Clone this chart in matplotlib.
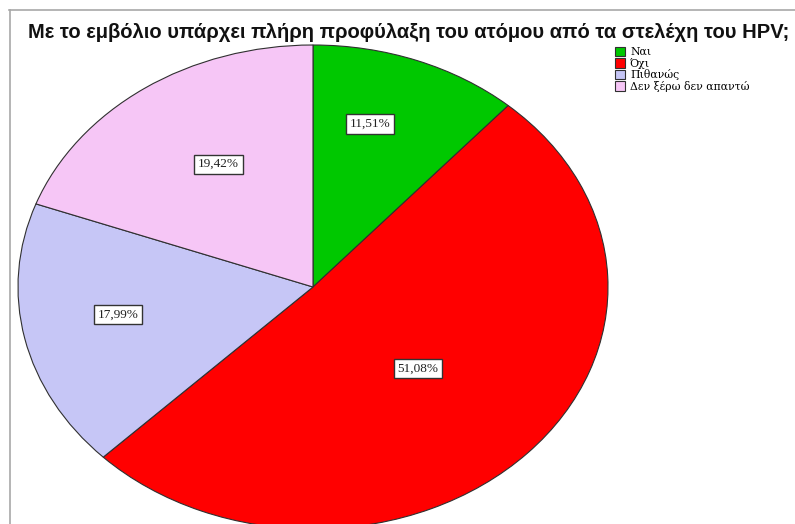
import matplotlib
matplotlib.use("Agg")
import matplotlib.pyplot as plt
from matplotlib.lines import Line2D
import numpy as np

# Survey answers and their shares (%)
categories = ["Ναι", "Όχι", "Πιθανώς", "Δεν ξέρω δεν απαντώ"]
shares = [11.51, 51.08, 17.99, 19.42]
pct_labels = ["11,51%", "51,08%", "17,99%", "19,42%"]
title = "Με το εμβόλιο υπάρχει πλήρη προφύλαξη του ατόμου από τα στελέχη του HPV;"

colors = ["#00c800", "#ff0000", "#c6c6f6", "#f6c6f6"]
label_dist = [0.70, 0.49, 0.67, 0.60]
label_shift = [4.7, 0.0, -2.6, -2.7]  # degrees, counter-clockwise positive

W, H = 795, 524
fig = plt.figure(figsize=(W / 100, H / 100), dpi=100)
fig.patch.set_facecolor("white")

# frame lines along the top and left edges
fig.add_artist(Line2D([9 / W, 1.0], [1 - 10 / H, 1 - 10 / H], transform=fig.transFigure,
                      color="#a8a8a8", lw=1.2))
fig.add_artist(Line2D([10 / W, 10 / W], [0.0, 1 - 10 / H], transform=fig.transFigure,
                      color="#a8a8a8", lw=1.2))

fig.text(28 / W, 1 - 33 / H, title, fontsize=14.5, fontweight="bold",
         family="Liberation Sans", ha="left", va="center", color="#111111")

left, right, top, bottom = 18, 608, 45, 529
ax = fig.add_axes([left / W, (H - bottom) / H, (right - left) / W, (bottom - top) / H])
wedges, _ = ax.pie(shares, colors=colors, startangle=90, counterclock=False,
                   wedgeprops=dict(edgecolor="#303030", linewidth=0.8))
ax.set_xlim(-1, 1)
ax.set_ylim(-1, 1)
ax.set_aspect("auto")
ax.axis("off")

# percentage labels in boxes, placed along each wedge's middle direction
for w, lab, d, s in zip(wedges, pct_labels, label_dist, label_shift):
    mid = np.deg2rad((w.theta1 + w.theta2) / 2 + s)
    ax.text(d * np.cos(mid), d * np.sin(mid), lab, ha="center", va="center",
            family="Liberation Serif", fontsize=9.5, color="#222222",
            bbox=dict(boxstyle="square,pad=0.28", facecolor="white",
                      edgecolor="#333333", linewidth=1.0))

leg = fig.legend(wedges, categories, loc="upper left",
                 bbox_to_anchor=(607 / W, 1 - 39 / H), frameon=False,
                 prop=dict(family="DejaVu Serif", size=7.8),
                 handlelength=1.0, handleheight=1.0, handletextpad=0.45,
                 labelspacing=0.05, borderpad=0.2)

fig.savefig("out.png", dpi=100, facecolor="white")
